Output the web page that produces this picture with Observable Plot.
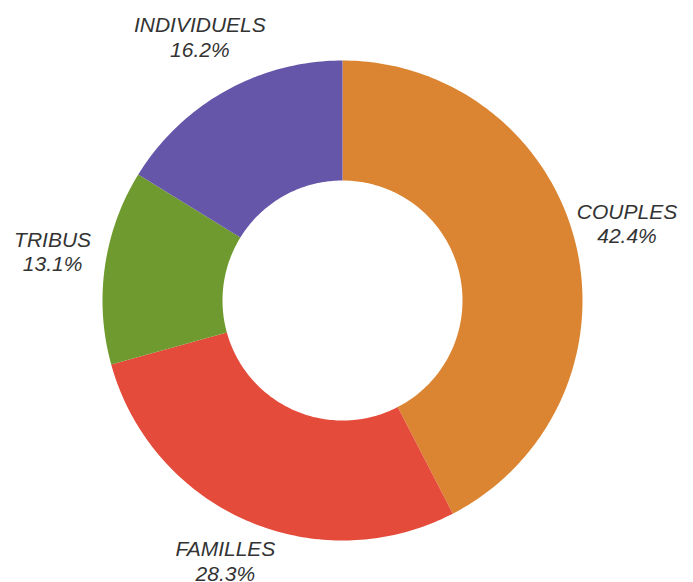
<!DOCTYPE html>
<html>
<head>
<meta charset="utf-8">
<script src="https://cdn.jsdelivr.net/npm/d3@7"></script>
<script src="https://cdn.jsdelivr.net/npm/@observablehq/plot@0.6"></script>
<style>
  html, body { margin: 0; padding: 0; background: #fff; }
</style>
</head>
<body>
<div id="chart"></div>
<script>
const categories = ["COUPLES", "FAMILLES", "TRIBUS", "INDIVIDUELS"];
const values = [42.4, 28.3, 13.1, 16.2];
const labels = ["42.4%", "28.3%", "13.1%", "16.2%"];
const colors = ["#DB8532", "#E44B3A", "#6F9A2F", "#6656AA"];

const W = 693, H = 582;
const cx = 342, cy = 300, R = 240; // pixel layout of the donut
const inner = 0.5, labelR = 1.22;

const total = d3.sum(values);
let acc = 0;
const slices = categories.map((c, i) => {
  const a0 = acc / total * 2 * Math.PI;
  acc += values[i];
  const a1 = acc / total * 2 * Math.PI;
  return {c, a0, a1, v: values[i], label: labels[i]};
});

// polygon outline of each ring slice in unit space (x right, y up, clockwise from top)
const pts = [];
for (const s of slices) {
  const n = Math.max(8, Math.ceil((s.a1 - s.a0) / (Math.PI / 180)));
  for (let k = 0; k <= n; k++) {
    const a = s.a0 + (s.a1 - s.a0) * k / n;
    pts.push({c: s.c, x: Math.sin(a), y: Math.cos(a)});
  }
  for (let k = n; k >= 0; k--) {
    const a = s.a0 + (s.a1 - s.a0) * k / n;
    pts.push({c: s.c, x: inner * Math.sin(a), y: inner * Math.cos(a)});
  }
}

const labelData = slices.map(s => {
  const m = (s.a0 + s.a1) / 2;
  return {c: s.c, x: labelR * Math.sin(m), y: labelR * Math.cos(m), text: s.c + "\n" + s.label};
});

const chart = Plot.plot({
  width: W,
  height: H,
  margin: 0,
  x: {domain: [-cx / R, (W - cx) / R], axis: null},
  y: {domain: [-(H - cy) / R, cy / R], axis: null},
  color: {domain: categories, range: colors},
  style: {background: "#fff"},
  marks: [
    Plot.line(pts, {x: "x", y: "y", z: "c", fill: "c", stroke: "none", curve: "linear"}),
    Plot.text(labelData, {
      x: "x", y: "y", text: "text", dy: -8,
      fontSize: 21, fontStyle: "italic", fill: "#333333",
      fontFamily: "Liberation Sans, Arial, sans-serif",
      lineHeight: 1.17, textAnchor: "middle"
    })
  ]
});
document.getElementById("chart").appendChild(chart);
</script>
</body>
</html>
